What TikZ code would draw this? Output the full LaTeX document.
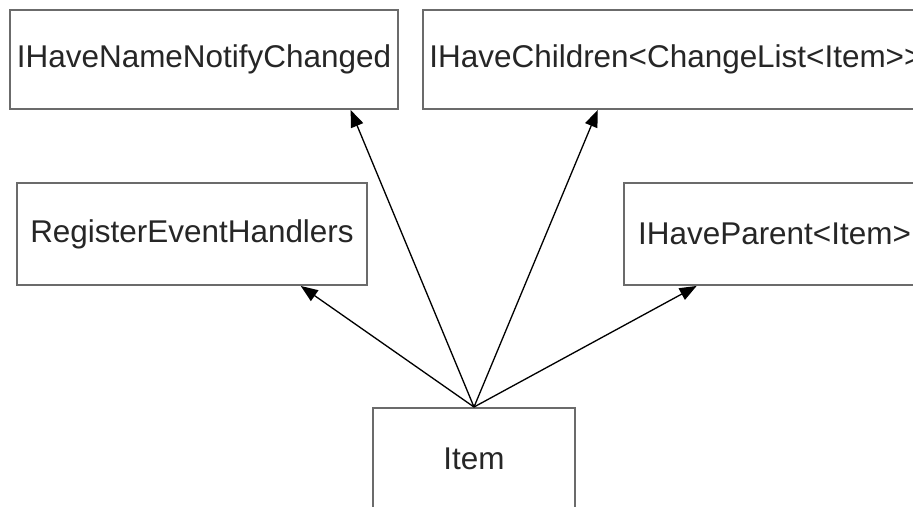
\documentclass[tikz,border=0pt]{standalone}
\usepackage{fontspec}
\setmainfont[Ligatures=TeXOff]{Liberation Sans}
\usetikzlibrary{arrows.meta,calc}

\begin{document}
\begin{tikzpicture}

      %styles for the boxes and the arrows
      \tikzset{
      classbox/.style={draw=black!58, line width=1.1pt, fill=white, inner sep=0pt,
        font=\fontsize{17.9}{20}\selectfont, text=black!85},
      inherits/.style={-{Triangle[length=0.34cm, width=0.26cm]}, line width=0.75pt, black},
      }

      %frame
      \useasboundingbox (0,0) rectangle (18.26,-10.14);
      \clip (0,0) rectangle (18.26,-10.14);

      %top row
      \node[classbox, minimum width=7.76cm, minimum height=1.98cm] (notify) at (4.08,-1.19) {IHaveNameNotifyChanged};
      \node[classbox, minimum width=10.12cm, minimum height=1.98cm] (children) at (13.52,-1.19) {IHaveChildren<ChangeList<Item>>};

      %middle row
      \node[classbox, minimum width=7.0cm, minimum height=2.04cm] (handlers) at (3.84,-4.68) {RegisterEventHandlers};
      \node[classbox, minimum width=6.02cm, minimum height=2.04cm] (parent) at (15.49,-4.68) {IHaveParent<Item>};

      %bottom
      \node[classbox, minimum width=4.04cm, minimum height=2.04cm] (item) at (9.48,-9.18) {Item};

      %arrows
      \draw[inherits] (item.north) -- ($(notify.south west)!0.876!(notify.south east)$);
      \draw[inherits] (item.north) -- ($(children.south west)!0.346!(children.south east)$);
      \draw[inherits] (item.north) -- ($(handlers.south west)!0.809!(handlers.south east)$);
      \draw[inherits] (item.north) -- ($(parent.south west)!0.243!(parent.south east)$);
    \end{tikzpicture}
\end{document}
